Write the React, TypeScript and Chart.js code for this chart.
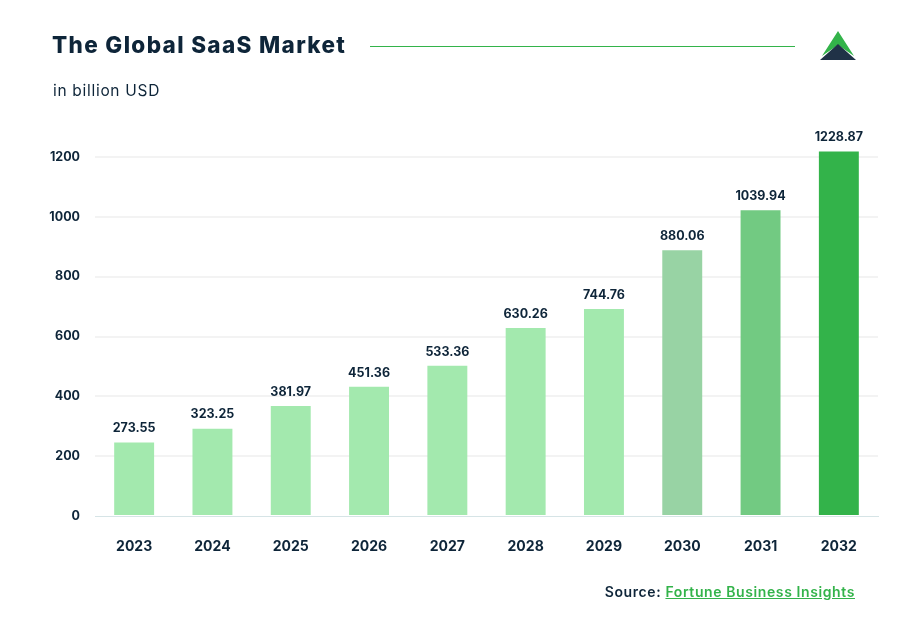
import React, { useEffect, useRef } from "react";
import { Chart, registerables } from "chart.js";

Chart.register(...registerables);

const years = ["2023", "2024", "2025", "2026", "2027", "2028", "2029", "2030", "2031", "2032"];
const barValues = [246, 292, 368, 432, 502, 628, 692, 888, 1022, 1218];
const valueLabels = ["273.55", "323.25", "381.97", "451.36", "533.36", "630.26", "744.76", "880.06", "1039.94", "1228.87"];
const barColors = [
  "#a3e9ae", "#a3e9ae", "#a3e9ae", "#a3e9ae", "#a3e9ae", "#a3e9ae", "#a3e9ae",
  "#98d3a4", "#72ca82", "#33b34a",
];
const yTicks = [0, 200, 400, 600, 800, 1000, 1200];

const NAVY = "#0e2539";
const FONT = "Inter, 'Noto Sans', sans-serif";

const valueLabelPlugin = {
  id: "valueLabels",
  afterDatasetsDraw(chart: any) {
    const { ctx } = chart;
    const meta = chart.getDatasetMeta(0);
    ctx.save();
    ctx.font = `700 12.5px ${FONT}`;
    ctx.fillStyle = NAVY;
    ctx.textAlign = "center";
    ctx.textBaseline = "middle";
    meta.data.forEach((bar: any, i: number) => {
      ctx.fillText(valueLabels[i], bar.x, bar.y - 14);
    });
    ctx.restore();
  },
};

export default function App() {
  const ref = useRef<HTMLCanvasElement>(null);
  useEffect(() => {
    const chart = new Chart(ref.current!, {
      type: "bar",
      data: {
        labels: years,
        datasets: [
          {
            data: barValues,
            backgroundColor: barColors,
            borderWidth: 0,
            barPercentage: 0.51,
            categoryPercentage: 1,
            clip: false as any,
          },
        ],
      },
      options: {
        animation: false,
        responsive: false,
        maintainAspectRatio: false,
        layout: { padding: { left: 1, right: 45, top: 157, bottom: 44 } },
        plugins: { legend: { display: false }, tooltip: { enabled: false }, title: { display: false } },
        scales: {
          x: {
            grid: { display: false, drawTicks: false },
            border: { display: true, color: "#d6e4e6", width: 1, dash: [2, 2] },
            ticks: { color: NAVY, font: { family: FONT, size: 14, weight: "bold" }, padding: 22 },
            afterFit: (s: any) => { s.height = 60; },
          },
          y: {
            min: 0,
            max: 1200,
            afterBuildTicks: (s: any) => { s.ticks = yTicks.map((v) => ({ value: v })); },
            grid: {
              color: (c: any) => (c.tick && c.tick.value === 0 ? "rgba(0,0,0,0)" : "#f3f3f3"),
              lineWidth: 2,
              drawTicks: false,
            },
            border: { display: false },
            ticks: {
              color: NAVY,
              font: { family: FONT, size: 12.5, weight: "bold" },
              padding: 15,
              callback: (v: any) => String(v),
            },
            afterFit: (s: any) => { s.width = 94; },
          },
        },
      },
      plugins: [valueLabelPlugin],
    });
    return () => chart.destroy();
  }, []);

  return (
    <div style={{ position: "fixed", left: 0, top: 0, width: 923, height: 620, background: "#fff", fontFamily: FONT, overflow: "hidden" }}>
      <canvas ref={ref} width={923} height={620} style={{ position: "absolute", left: 0, top: 0, width: 923, height: 620 }} />
      <div style={{ position: "absolute", left: 52, top: 31, fontSize: 22.5, fontWeight: 800, color: NAVY, letterSpacing: 1.35, whiteSpace: "nowrap" }}>
        The Global SaaS Market
      </div>
      <div style={{ position: "absolute", left: 370, top: 46, width: 425, height: 1, background: "#33b34a" }} />
      <div style={{ position: "absolute", left: 53, top: 81, fontSize: 15.5, fontWeight: 400, color: NAVY, letterSpacing: 0.7, whiteSpace: "nowrap" }}>
        in billion USD
      </div>
      <svg style={{ position: "absolute", left: 818, top: 29 }} width={40} height={33} viewBox="0 0 40 33">
        <polygon points="20,2 36,27 20,16 4,27" fill="#33b34a" />
        <polygon points="20,15 38,31 2,31" fill="#203247" />
      </svg>
      <div style={{ position: "absolute", right: 68, top: 583, fontSize: 14, fontWeight: 600, color: NAVY, letterSpacing: 0.6, whiteSpace: "nowrap" }}>
        Source: <span style={{ color: "#33b34a", textDecoration: "underline" }}>Fortune Business Insights</span>
      </div>
    </div>
  );
}
